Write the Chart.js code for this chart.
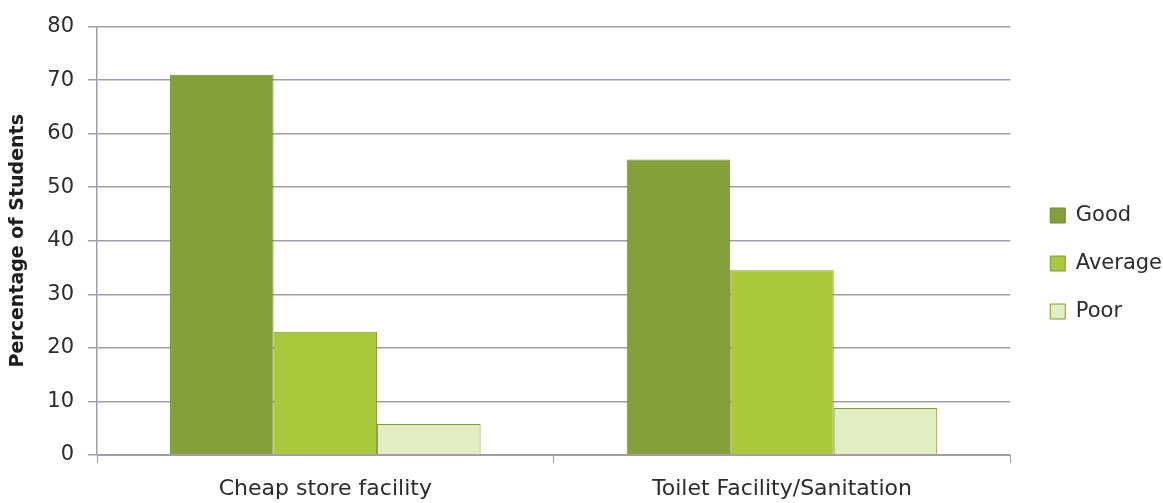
<!DOCTYPE html>
<html>
<head>
<meta charset="utf-8">
<script src="https://cdn.jsdelivr.net/npm/chart.js@4"></script>
<style>
    html, body { margin: 0; padding: 0; background: #ffffff; }
    #wrap { width: 1163px; height: 503px; position: relative; }
</style>
</head>
<body>
<div id="wrap"><canvas id="grafica"></canvas></div>
<script>
const categorias = ["Cheap store facility", "Toilet Facility/Sanitation"];
const valoresGood = [71, 55.2];
const valoresAverage = [23, 34.5];
const valoresPoor = [5.8, 8.8];
const ticksY = [0, 10, 20, 30, 40, 50, 60, 70, 80];

const colorTexto = "#2b2b2b";
const colorGrid = "#9f9ea8";
const fuente = "'DejaVu Sans', 'Open Sans', sans-serif";

// corre la leyenda un poco a la derecha, como en el original
const moverLeyenda = {
    id: "moverLeyenda",
    afterLayout(chart) {
        if (!chart.legend) return;
        chart.legend.left += 13;
        chart.legend.right += 13;
        chart.legend.top += 2;
        chart.legend.bottom += 2;
    }
};

new Chart(document.getElementById("grafica"), {
    type: "bar",
    data: {
        labels: categorias,
        datasets: [
            { label: "Good", data: valoresGood, backgroundColor: "#85a03a", borderColor: "#6f882e", borderWidth: 1 },
            { label: "Average", data: valoresAverage, backgroundColor: "#a9c83c", borderColor: "#7f9a2e", borderWidth: 1 },
            { label: "Poor", data: valoresPoor, backgroundColor: "#e3edc4", borderColor: "#7f9a2e", borderWidth: 1 }
        ]
    },
    options: {
        responsive: true,
        maintainAspectRatio: false,
        animation: false,
        layout: { padding: { top: 20, left: 0, right: 4, bottom: 0 } },
        datasets: { bar: { categoryPercentage: 0.68, barPercentage: 1 } },
        plugins: {
            tooltip: { enabled: false },
            legend: {
                position: "right",
                align: "center",
                maxWidth: 153,
                labels: {
                    color: colorTexto,
                    font: { family: fuente, size: 21 },
                    boxWidth: 15,
                    boxHeight: 15,
                    padding: 27
                }
            }
        },
        scales: {
            x: {
                grid: { display: true, drawOnChartArea: false, offset: true, color: colorGrid, tickLength: 8 },
                border: { color: colorGrid, width: 1 },
                ticks: { color: colorTexto, font: { family: fuente, size: 22 }, padding: 13 },
                afterFit: escala => { escala.height = 48; }
            },
            y: {
                min: 0,
                max: 80,
                afterBuildTicks: escala => { escala.ticks = ticksY.map(v => ({ value: v })); },
                afterFit: escala => { escala.width = 97; },
                grid: { color: colorGrid, lineWidth: 1.5, tickLength: 9 },
                border: { color: colorGrid, width: 1.5 },
                ticks: { color: colorTexto, font: { family: fuente, size: 21 }, padding: 14 },
                title: {
                    display: true,
                    text: "Percentage of Students",
                    color: "#1e1e1e",
                    font: { family: fuente, size: 19, weight: "bold" },
                    padding: { top: 7, bottom: 10 }
                }
            }
        }
    },
    plugins: [moverLeyenda]
});
</script>
</body>
</html>
